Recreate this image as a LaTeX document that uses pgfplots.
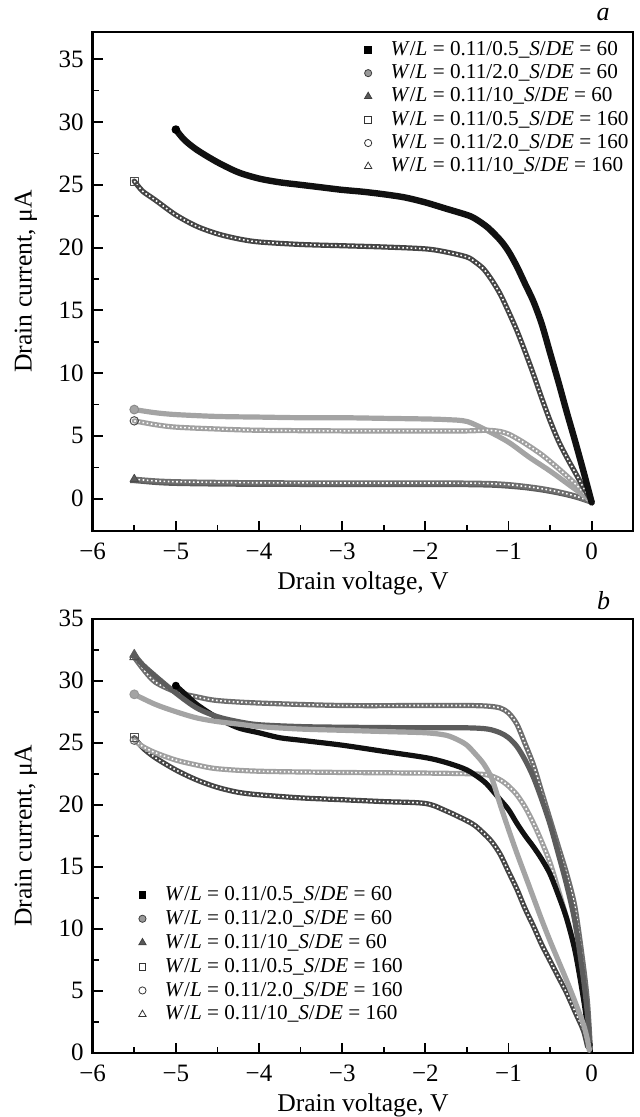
\documentclass[border=0pt]{standalone}
\usepackage{fontspec}
\setmainfont{Liberation Serif}
\usepackage{pgfplots}
\usepackage{pgfplotstable}
\pgfplotsset{compat=1.18}

% ---------------- panel a ----------------
\pgfplotstableread{
V I
-5.0 29.4
-4.9 28.6
-4.75 27.8
-4.5 26.8
-4.25 26.0
-4.0 25.5
-3.75 25.2
-3.5 25.0
-3.25 24.8
-3.0 24.6
-2.75 24.45
-2.5 24.25
-2.25 24.0
-2.0 23.6
-1.75 23.1
-1.5 22.6
-1.4 22.3
-1.25 21.6
-1.1 20.6
-1.0 19.7
-0.9 18.5
-0.8 17.1
-0.7 15.7
-0.6 13.9
-0.5 11.6
-0.4 9.3
-0.3 6.9
-0.2 4.6
-0.1 2.2
0.0 -0.3
}\aSqA
\pgfplotstableread{
V I
-5.5 25.3
-5.4 24.5
-5.25 23.8
-5.0 22.6
-4.75 21.7
-4.5 21.1
-4.25 20.7
-4.0 20.45
-3.5 20.25
-3.0 20.15
-2.5 20.05
-2.0 19.9
-1.75 19.65
-1.5 19.25
-1.4 18.85
-1.3 18.3
-1.2 17.4
-1.1 16.3
-1.0 14.9
-0.9 13.4
-0.8 11.7
-0.7 9.9
-0.6 8.0
-0.5 6.2
-0.4 4.6
-0.3 3.3
-0.2 2.1
-0.1 0.9
0.0 -0.2
}\aSqB
\pgfplotstableread{
V I
-5.5 7.1
-5.25 6.85
-5.0 6.7
-4.5 6.55
-4.0 6.5
-3.5 6.45
-3.0 6.45
-2.5 6.4
-2.0 6.35
-1.75 6.3
-1.5 6.15
-1.25 5.4
-1.0 4.5
-0.75 3.3
-0.5 2.2
-0.25 1.0
0.0 -0.2
}\aCiA
\pgfplotstableread{
V I
-5.5 6.2
-5.25 5.9
-5.0 5.7
-4.5 5.55
-4.0 5.45
-3.0 5.4
-2.0 5.4
-1.5 5.4
-1.25 5.45
-1.1 5.35
-1.0 5.15
-0.9 4.8
-0.8 4.4
-0.6 3.5
-0.4 2.4
-0.2 1.2
0.0 -0.2
}\aCiB
\pgfplotstableread{
V I
-5.5 1.45
-5.25 1.3
-5.0 1.22
-4.5 1.17
-4.0 1.15
-3.0 1.13
-2.0 1.13
-1.5 1.12
-1.2 1.08
-1.0 1.0
-0.8 0.88
-0.6 0.7
-0.4 0.46
-0.2 0.15
0.0 -0.28
}\aTrA
\pgfplotstableread{
V I
-5.5 1.55
-5.25 1.42
-5.0 1.35
-4.5 1.3
-4.0 1.27
-3.0 1.25
-2.0 1.25
-1.5 1.24
-1.2 1.2
-1.0 1.12
-0.8 0.98
-0.6 0.8
-0.4 0.55
-0.2 0.22
0.0 -0.25
}\aTrB

% ---------------- panel b ----------------
\pgfplotstableread{
V I
-5.0 29.6
-4.9 29.0
-4.75 28.1
-4.5 27.0
-4.25 26.2
-4.0 25.8
-3.75 25.4
-3.5 25.2
-3.0 24.8
-2.5 24.3
-2.0 23.8
-1.75 23.4
-1.5 22.8
-1.3 21.9
-1.2 21.2
-1.1 20.4
-1.0 19.6
-0.9 18.5
-0.8 17.5
-0.7 16.6
-0.6 15.6
-0.5 14.4
-0.4 12.7
-0.3 10.8
-0.2 8.2
-0.1 4.4
-0.05 2.0
-0.03 0.5
}\bSqA
\pgfplotstableread{
V I
-5.5 25.4
-5.4 24.6
-5.25 23.8
-5.0 22.8
-4.75 22.0
-4.5 21.4
-4.25 21.0
-4.0 20.8
-3.5 20.55
-3.0 20.4
-2.5 20.25
-2.0 20.1
-1.75 19.5
-1.5 18.7
-1.4 18.3
-1.3 17.7
-1.2 17.0
-1.1 16.0
-1.0 14.6
-0.9 13.2
-0.8 11.6
-0.7 10.2
-0.6 8.7
-0.5 7.4
-0.4 6.1
-0.3 4.8
-0.2 3.3
-0.1 1.8
-0.05 0.5
}\bSqB
\pgfplotstableread{
V I
-5.5 28.9
-5.25 28.1
-5.0 27.5
-4.75 27.0
-4.5 26.7
-4.25 26.5
-4.0 26.3
-3.5 26.1
-3.0 26.0
-2.5 25.9
-2.0 25.8
-1.75 25.6
-1.6 25.2
-1.5 24.8
-1.4 24.1
-1.3 23.3
-1.2 22.1
-1.1 20.0
-1.0 18.0
-0.9 16.1
-0.8 14.3
-0.7 12.5
-0.6 10.7
-0.5 9.0
-0.4 7.4
-0.3 5.8
-0.2 4.1
-0.1 2.3
-0.05 1.0
-0.03 0.2
}\bCiA
\pgfplotstableread{
V I
-5.5 25.2
-5.4 24.7
-5.25 24.2
-5.0 23.6
-4.75 23.2
-4.5 22.9
-4.0 22.7
-3.0 22.6
-2.0 22.55
-1.5 22.5
-1.25 22.4
-1.1 22.0
-1.0 21.5
-0.9 20.8
-0.8 19.8
-0.7 18.5
-0.6 17.0
-0.5 15.3
-0.4 13.1
-0.3 10.8
-0.2 8.3
-0.1 5.0
-0.05 3.0
-0.03 1.5
-0.02 0.3
}\bCiB
\pgfplotstableread{
V I
-5.5 32.1
-5.4 31.3
-5.25 30.4
-5.0 29.0
-4.75 27.8
-4.5 27.1
-4.25 26.7
-4.0 26.45
-3.5 26.3
-3.0 26.25
-2.0 26.2
-1.5 26.2
-1.25 26.1
-1.1 25.8
-1.0 25.4
-0.9 24.7
-0.8 23.6
-0.7 22.2
-0.6 20.4
-0.5 18.4
-0.4 16.0
-0.3 13.5
-0.2 10.5
-0.1 6.0
-0.05 3.0
-0.03 1.0
}\bTrA
\pgfplotstableread{
V I
-5.5 31.9
-5.4 31.0
-5.25 29.9
-5.0 29.1
-4.75 28.7
-4.5 28.4
-4.0 28.2
-3.0 28.0
-2.0 28.0
-1.5 28.0
-1.25 27.95
-1.1 27.8
-1.0 27.4
-0.9 26.5
-0.8 24.9
-0.7 23.2
-0.6 21.0
-0.5 18.8
-0.4 16.6
-0.3 14.4
-0.2 11.7
-0.1 7.0
-0.05 4.0
-0.02 0.8
}\bTrB

\newcommand{\leg}[2]{\textit{W}/\textit{L} = 0.11/#1\_\textit{S}/\textit{DE} = #2}

\definecolor{cBlack}{HTML}{111111}
\definecolor{cSqB}{HTML}{454545}
\definecolor{cCiA}{HTML}{A4A4A4}
\definecolor{cCiB}{HTML}{A0A0A0}
\definecolor{cTrA}{HTML}{5C5C5C}
\definecolor{cTrB}{HTML}{6E6E6E}

\pgfplotsset{
  panel/.style={
    scale only axis, width=270.3pt,
    xmin=-6, xmax=0.5,
    xtick={-6,-5,-4,-3,-2,-1,0},
    xticklabels={−6,−5,−4,−3,−2,−1,0},
    ytick={0,5,10,15,20,25,30,35},
    yticklabels={0,5,10,15,20,25,30,35},
    minor x tick num=1, minor y tick num=1,
    tick align=inside, tick pos=left,
    major tick length=5pt, minor tick length=3pt,
    major tick style={line width=0.9pt, black},
    minor tick style={line width=0.8pt, black},
    axis line style={line width=1.2pt},
    tick label style={font=\fontsize{12.5}{14}\selectfont},
    xticklabel style={yshift=-2.5pt},
    yticklabel style={xshift=-1pt},
    label style={font=\fontsize{12.8}{15}\selectfont},
    xlabel={Drain voltage, V},
    ylabel={Drain current, μA},
    legend style={draw=none, fill=none, font=\fontsize{10.6}{12}\selectfont,
      anchor=north west, inner sep=0pt, column sep=2pt, row sep=3.1pt,
      nodes={inner xsep=2pt, inner ysep=0pt}},
    legend cell align=left,
  },
  legm/.style={legend image code/.code={\path (-7pt,0pt) (7pt,0pt);\draw[##1,only marks] plot coordinates {(0pt,0pt)};}},
  band/.style={smooth, line width=2.6pt, line cap=round, line join=round,
    mark indices={1}, forget plot},
  hatch/.style={smooth, white, line width=0.8pt, dash pattern=on 0.8pt off 1.3pt, no marks, forget plot},
}

\begin{document}
\begin{tikzpicture}
\path[use as bounding box] (-46.35pt,-293pt) rectangle (273.65pt,265.5pt);

% ================= panel a =================
\begin{axis}[panel, at={(0pt,0pt)}, anchor=south west, height=249.5pt,
  ymin=-2.573, ymax=37.175,
  xlabel style={at={(axis description cs:0.5,-0.105)}, anchor=center},
  ylabel style={at={(axis description cs:-0.1234,0.5)}, anchor=center},
  legend style={at={(0.4822,0.9822)}},
  extra description/.code={\node[font=\itshape\fontsize{13}{15}\selectfont] at (0.944,1.036) {a};},
]
\addlegendimage{legm, black, mark=square*, mark size=1.7pt, mark options={fill=black}}
\addlegendentry{\leg{0.5}{60}}
\addlegendimage{legm, black!75, mark=*, mark size=1.8pt, mark options={fill=black!40}}
\addlegendentry{\leg{2.0}{60}}
\addlegendimage{legm, black!75, mark=triangle*, mark size=2.1pt, mark options={fill=black!65}}
\addlegendentry{\leg{10}{60}}
\addlegendimage{legm, black!80, mark=square, mark size=1.7pt}
\addlegendentry{\leg{0.5}{160}}
\addlegendimage{legm, black!80, mark=o, mark size=1.8pt}
\addlegendentry{\leg{2.0}{160}}
\addlegendimage{legm, black!80, mark=triangle, mark size=2.1pt}
\addlegendentry{\leg{10}{160}}

\addplot[band, cTrA, mark=triangle*, mark size=2.2pt, mark options={solid, line width=0.5pt, fill=cTrA, draw=cTrA}] table {\aTrA};
\addplot[band, cTrB, mark=triangle, mark size=2.4pt, mark options={solid, line width=0.5pt, fill=white, draw=black!70}] table {\aTrB};
\addplot[hatch] table {\aTrB};
\addplot[band, cCiA, mark=*, mark size=2.2pt, mark options={solid, line width=0.5pt, fill=cCiA, draw=black!45}] table {\aCiA};
\addplot[band, cCiB, mark=o, mark size=2.1pt, mark options={solid, line width=0.5pt, fill=white, draw=black!70}] table {\aCiB};
\addplot[hatch] table {\aCiB};
\addplot[band, cSqB, mark=square, mark size=2.0pt, mark options={solid, line width=0.5pt, fill=white, draw=black!70}] table {\aSqB};
\addplot[hatch] table {\aSqB};
\addplot[band, cBlack, line width=3.2pt, mark=*, mark size=1.9pt, mark options={solid, line width=0.5pt, fill=black, draw=black}] table {\aSqA};
\end{axis}

% ================= panel b =================
\begin{axis}[panel, at={(0pt,-260.85pt)}, anchor=south west, height=217pt,
  ymin=0, ymax=35,
  xlabel style={at={(axis description cs:0.5,-0.1205)}, anchor=center},
  ylabel style={at={(axis description cs:-0.1234,0.5)}, anchor=center},
  legend style={at={(0.0647,0.3843)}, row sep=3.4pt},
  extra description/.code={\node[font=\itshape\fontsize{13}{15}\selectfont] at (0.945,1.0415) {b};},
]
\addlegendimage{legm, black, mark=square*, mark size=1.7pt, mark options={fill=black}}
\addlegendentry{\leg{0.5}{60}}
\addlegendimage{legm, black!75, mark=*, mark size=1.8pt, mark options={fill=black!40}}
\addlegendentry{\leg{2.0}{60}}
\addlegendimage{legm, black!75, mark=triangle*, mark size=2.1pt, mark options={fill=black!65}}
\addlegendentry{\leg{10}{60}}
\addlegendimage{legm, black!80, mark=square, mark size=1.7pt}
\addlegendentry{\leg{0.5}{160}}
\addlegendimage{legm, black!80, mark=o, mark size=1.8pt}
\addlegendentry{\leg{2.0}{160}}
\addlegendimage{legm, black!80, mark=triangle, mark size=2.1pt}
\addlegendentry{\leg{10}{160}}

\addplot[band, cSqB, mark=square, mark size=2.0pt, mark options={solid, line width=0.5pt, fill=white, draw=black!70}] table {\bSqB};
\addplot[hatch] table {\bSqB};
\addplot[band, cCiB, mark=o, mark size=2.1pt, mark options={solid, line width=0.5pt, fill=white, draw=black!60}] table {\bCiB};
\addplot[hatch] table {\bCiB};
\addplot[band, cTrB, mark=triangle, mark size=2.6pt, mark options={solid, line width=0.5pt, fill=white, draw=black!70}] table {\bTrB};
\addplot[hatch] table {\bTrB};
\addplot[band, cBlack, mark=*, mark size=1.7pt, mark options={solid, line width=0.5pt, fill=black, draw=black}] table {\bSqA};
\addplot[band, cTrA, mark=triangle*, mark size=2.6pt, mark options={solid, line width=0.5pt, fill=cTrA, draw=cTrA}] table {\bTrA};
\addplot[band, cCiA, mark=*, mark size=2.2pt, mark options={solid, line width=0.5pt, fill=cCiA, draw=black!40}] table {\bCiA};
\end{axis}
\end{tikzpicture}
\end{document}
